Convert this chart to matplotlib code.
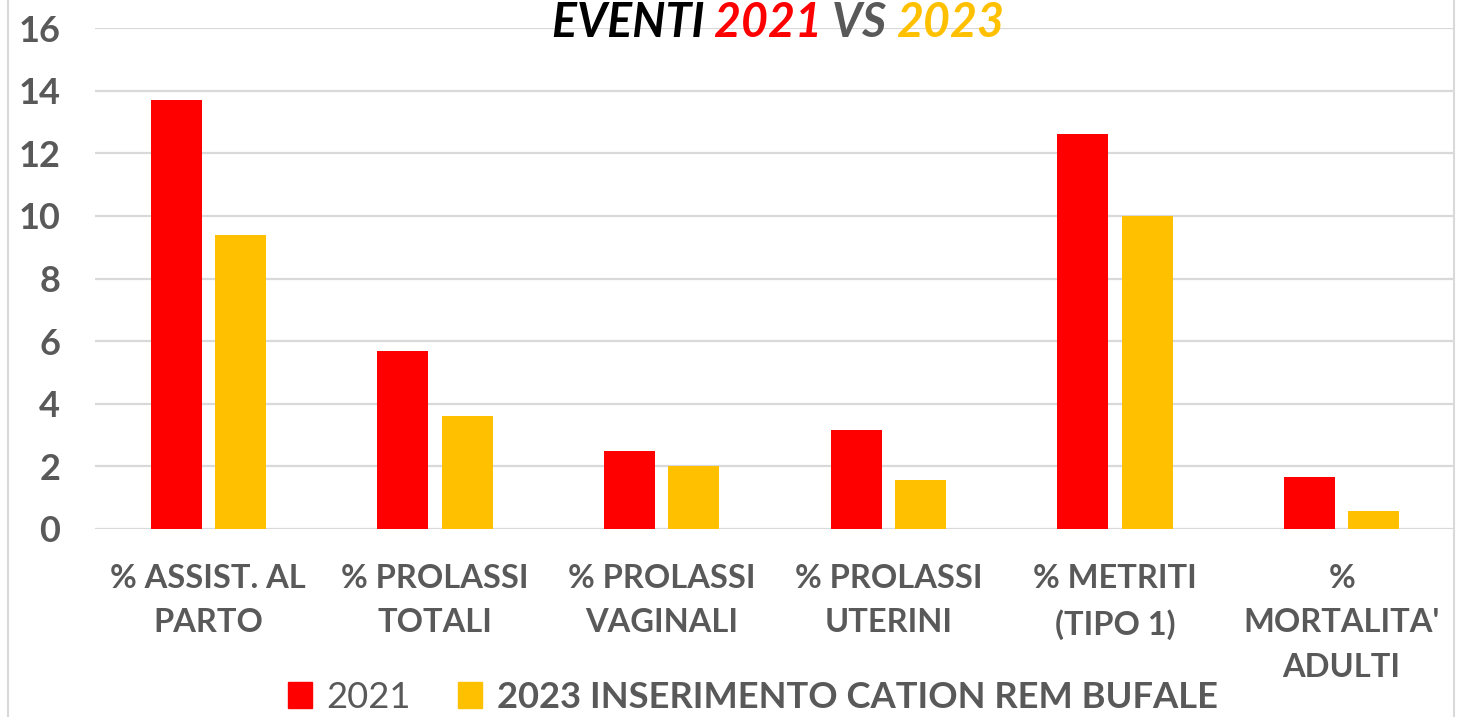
import matplotlib
matplotlib.use("Agg")
import matplotlib.pyplot as plt
from matplotlib.patches import Patch
from matplotlib.lines import Line2D
import numpy as np

categories = ["% ASSIST. AL\nPARTO", "% PROLASSI\nTOTALI", "% PROLASSI\nVAGINALI",
              "% PROLASSI\nUTERINI", "% METRITI\n(TIPO 1)", "%\nMORTALITA'\nADULTI"]
series_2021 = [13.7, 5.7, 2.5, 3.15, 12.6, 1.67]
series_2023 = [9.4, 3.6, 2.0, 1.57, 10.0, 0.58]
series_names = ["2021", "2023 INSERIMENTO CATION REM BUFALE"]
yticks = [0, 2, 4, 6, 8, 10, 12, 14, 16]

RED = "#FF0000"
YEL = "#FFC000"
GRAY = "#595959"
FONT = ["Lato", "DejaVu Sans"]
plt.rcParams["font.family"] = FONT

W, H = 1462, 717
fig = plt.figure(figsize=(W / 100, H / 100), dpi=100)
ax = fig.add_axes([95 / W, 1 - 529 / H, (1455 - 95) / W, (529 - 28) / H])

x = np.arange(len(categories))
bw = 0.225
off = 0.142
ax.bar(x - off, series_2021, bw, color=RED, zorder=3)
ax.bar(x + off, series_2023, bw, color=YEL, zorder=3)

ax.set_xlim(-0.5, len(categories) - 0.5)
ax.set_ylim(0, 16)
ax.set_yticks(yticks)
ax.set_yticklabels([str(v) for v in yticks])
ax.yaxis.grid(True, color="#D9D9D9", linewidth=1.6, zorder=0)
ax.set_axisbelow(True)
for s in ax.spines.values():
    s.set_visible(False)
ax.tick_params(axis="y", length=0, pad=25, labelsize=26, labelcolor=GRAY)
for t in ax.get_yticklabels():
    t.set_fontweight("bold")
ax.set_xticks(x)
ax.set_xticklabels(categories, fontsize=23.5, fontweight="bold", color=GRAY,
                   linespacing=1.65, va="top")
ax.tick_params(axis="x", length=0, pad=25)

# chart border (left and right edges)
fig.add_artist(Line2D([8 / W, 8 / W], [0, 1], color="#D9D9D9", linewidth=1.5))
fig.add_artist(Line2D([1454 / W, 1454 / W], [0, 1], color="#D9D9D9", linewidth=1.5))

# title with coloured parts
fig.canvas.draw()
r = fig.canvas.get_renderer()
parts = [("EVENTI ", "black"), ("2021 ", RED), ("VS ", GRAY), ("2023", YEL)]
tkw = dict(fontsize=33.5, fontweight="bold", fontstyle="italic", va="baseline")
texts = []
for s, c in parts:
    texts.append(fig.text(0, 1 - 37 / H, s, color=c, **tkw))
widths = [t.get_window_extent(r).width for t in texts]
total = sum(widths)
xs = 778 - total / 2
for t, w in zip(texts, widths):
    t.set_x(xs / W)
    xs += w

handles = [Patch(color=RED), Patch(color=YEL)]
leg = fig.legend(handles, series_names, loc="center", bbox_to_anchor=(753 / W, 1 - 697 / H),
                 ncol=2, frameon=False, fontsize=26.2, handlelength=0.66, handleheight=0.7,
                 handletextpad=0.4, columnspacing=1.3, borderaxespad=0)
for t in leg.get_texts():
    t.set_color(GRAY)
leg.get_texts()[1].set_fontweight("bold")

fig.savefig("out.png", dpi=100, facecolor="white")
